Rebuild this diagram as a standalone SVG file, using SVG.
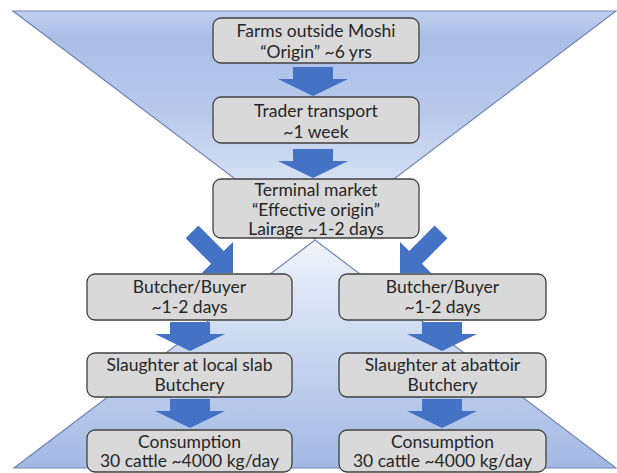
<svg xmlns="http://www.w3.org/2000/svg" xmlns:xlink="http://www.w3.org/1999/xlink" width="617" height="473" viewBox="0 0 617 473">
  <style>
    .box { fill: #d9d9d9; stroke: #404040; stroke-width: 1.3; }
    .lbl { font-family: Lato, "Open Sans", "Liberation Sans", sans-serif; font-size: 17.5px; fill: #262626; text-anchor: middle; }
    .tri { stroke: #7186b5; stroke-width: 1.2; }
    .arr { fill: #4472c4; }
  </style>
  <defs>
    <linearGradient id="gTop" x1="0" y1="0" x2="0" y2="1">
      <stop offset="0" stop-color="#c0d0ee"/>
      <stop offset="0.12" stop-color="#aabee6"/>
      <stop offset="0.45" stop-color="#b8c9eb"/>
      <stop offset="1" stop-color="#f0f4fb"/>
    </linearGradient>
    <linearGradient id="gBot" x1="0" y1="1" x2="0" y2="0">
      <stop offset="0" stop-color="#a3b9e3"/>
      <stop offset="0.45" stop-color="#c3d2ee"/>
      <stop offset="1" stop-color="#f0f4fb"/>
    </linearGradient>
    <path id="darrow" class="arr" d="M-20,0 H20 V12 H35 L0,29 L-35,12 H-20 Z"/>
    <path id="sarrow" class="arr" d="M-9,-58 H9 V-22 H22 L0,0 L-22,-22 H-9 Z"/>
  </defs>

  <g id="background">
    <polygon class="tri" points="13,11 616,11 314.5,239" fill="url(#gTop)"/>
    <polygon class="tri" points="315,240 616,468 14,468" fill="url(#gBot)"/>
  </g>

  <g id="connectors">
    <use href="#darrow" x="313" y="67"/>
    <use href="#darrow" x="313" y="149"/>
    <use href="#sarrow" transform="translate(233,273) rotate(-45)"/>
    <use href="#sarrow" transform="translate(400,273) rotate(45)"/>
    <use href="#darrow" x="190" y="322"/>
    <use href="#darrow" x="190" y="399"/>
    <use href="#darrow" x="442" y="322"/>
    <use href="#darrow" x="442" y="399"/>
  </g>

  <g id="farms">
    <rect class="box" x="213" y="18" width="206" height="45" rx="8"/>
    <text class="lbl" x="316" y="37">Farms outside Moshi</text>
    <text class="lbl" x="316" y="58">“Origin” ~6 yrs</text>
  </g>
  <g id="trader">
    <rect class="box" x="213" y="97" width="206" height="46" rx="8"/>
    <text class="lbl" x="316" y="117">Trader transport</text>
    <text class="lbl" x="316" y="138">~1 week</text>
  </g>
  <g id="terminal">
    <rect class="box" x="213" y="179" width="206" height="59" rx="8"/>
    <text class="lbl" x="316" y="196">Terminal market</text>
    <text class="lbl" x="316" y="216">“Effective origin”</text>
    <text class="lbl" x="316" y="235">Lairage ~1-2 days</text>
  </g>
  <g id="buyer-left">
    <rect class="box" x="87" y="274" width="205" height="46" rx="8"/>
    <text class="lbl" x="189.5" y="293">Butcher/Buyer</text>
    <text class="lbl" x="189.5" y="313">~1-2 days</text>
  </g>
  <g id="buyer-right">
    <rect class="box" x="339" y="274" width="207" height="46" rx="8"/>
    <text class="lbl" x="442.5" y="293">Butcher/Buyer</text>
    <text class="lbl" x="442.5" y="313">~1-2 days</text>
  </g>
  <g id="slab">
    <rect class="box" x="87" y="353" width="205" height="44" rx="8"/>
    <text class="lbl" x="189.5" y="371">Slaughter at local slab</text>
    <text class="lbl" x="189.5" y="391">Butchery</text>
  </g>
  <g id="abattoir">
    <rect class="box" x="339" y="353" width="207" height="44" rx="8"/>
    <text class="lbl" x="442.5" y="371">Slaughter at abattoir</text>
    <text class="lbl" x="442.5" y="391">Butchery</text>
  </g>
  <g id="consumption-left">
    <rect class="box" x="87" y="430" width="205" height="42" rx="8"/>
    <text class="lbl" x="189.5" y="448">Consumption</text>
    <text class="lbl" x="189.5" y="467">30 cattle ~4000 kg/day</text>
  </g>
  <g id="consumption-right">
    <rect class="box" x="339" y="430" width="207" height="42" rx="8"/>
    <text class="lbl" x="442.5" y="448">Consumption</text>
    <text class="lbl" x="442.5" y="467">30 cattle ~4000 kg/day</text>
  </g>
</svg>
